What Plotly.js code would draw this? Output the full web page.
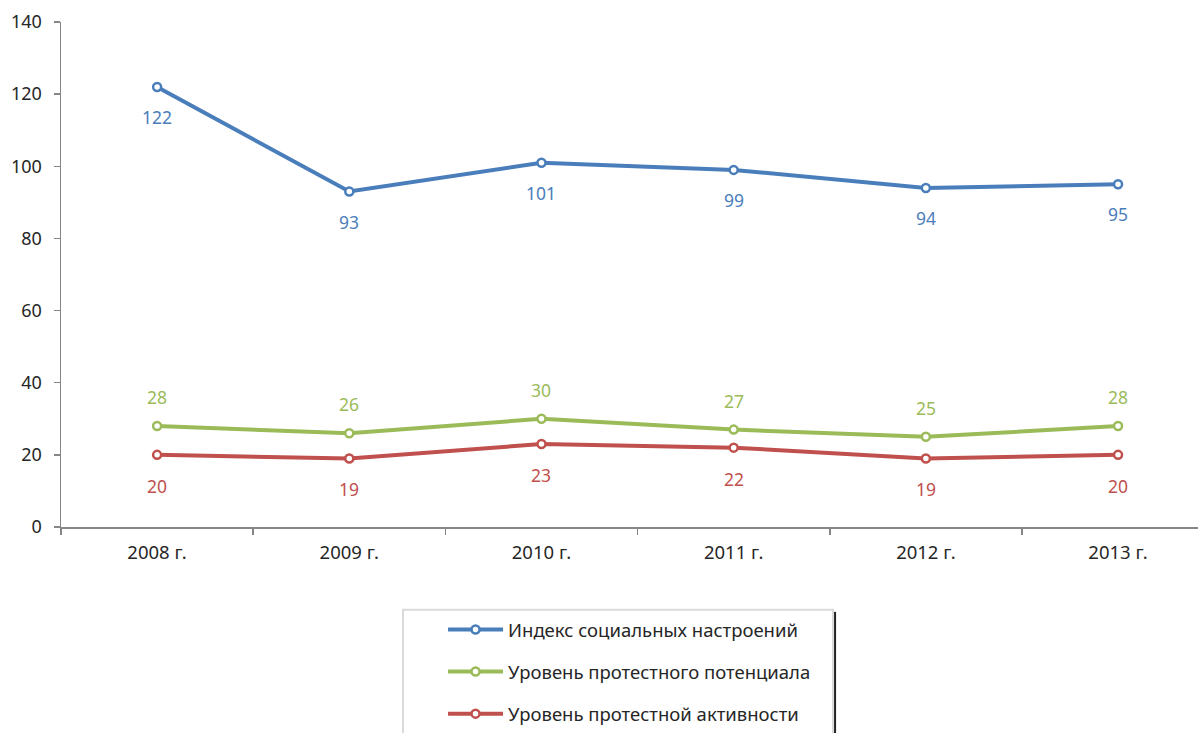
<!DOCTYPE html>
<html><head><meta charset="utf-8">
<script src="https://cdn.plot.ly/plotly-3.0.1.min.js"></script>
<style>body{margin:0;background:#fff}#chart{width:1198px;height:733px}</style>
</head><body><div id="chart"></div>
<script>
const categories = ["2008 г.", "2009 г.", "2010 г.", "2011 г.", "2012 г.", "2013 г."];
const seriesNames = ["Индекс социальных настроений", "Уровень протестного потенциала", "Уровень протестной активности"];
const indexValues = [122, 93, 101, 99, 94, 95];
const potentialValues = [28, 26, 30, 27, 25, 28];
const activityValues = [20, 19, 23, 22, 19, 20];
const yTicks = [0, 20, 40, 60, 80, 100, 120, 140];

const colors = ["#4a7ebb", "#9bbb59", "#c0504d"];
const allValues = [indexValues, potentialValues, activityValues];
const labelShift = [-30, 29, -31];
const FONT = "Noto Sans, sans-serif";

const traces = allValues.map((vals, i) => ({
  type: "scatter", mode: "lines+markers",
  x: categories, y: vals, name: seriesNames[i],
  legendgroup: "g" + i,
  line: {color: colors[i], width: 4},
  marker: {symbol: "circle", size: 8, color: "#ffffff", line: {color: colors[i], width: 2.5}},
  hoverinfo: "skip"
}));

const annotations = [];
allValues.forEach((vals, i) => {
  vals.forEach((v, j) => {
    annotations.push({x: categories[j], y: v, xref: "x", yref: "y", text: String(v),
      showarrow: false, yshift: labelShift[i], font: {family: FONT, size: 17.5, color: colors[i]}});
  });
});

const layout = {
  width: 1198, height: 733,
  margin: {l: 61, r: 0, t: 22, b: 205},
  paper_bgcolor: "#ffffff", plot_bgcolor: "#ffffff",
  font: {family: FONT, size: 16, color: "#262626"},
  showlegend: true,
  xaxis: {type: "category", range: [-0.5, 5.416], tickson: "boundaries", automargin: false,
    ticks: "outside", ticklen: 6, tickcolor: "#868686", tickwidth: 1.5,
    showline: true, linecolor: "#868686", linewidth: 1.5, showgrid: false, zeroline: false,
    ticklabelstandoff: 8,
    tickfont: {family: FONT, size: 18.5, color: "#262626"}, fixedrange: true},
  yaxis: {range: [0, 140], tickvals: yTicks, ticks: "outside", ticklen: 6, tickcolor: "#868686", tickwidth: 1.5,
    showline: true, linecolor: "#868686", linewidth: 1.5, showgrid: false, zeroline: false, automargin: false,
    ticklabelstandoff: 8,
    tickfont: {family: FONT, size: 18, color: "#262626"}, fixedrange: true},
  legend: {x: 0.336, y: -0.166, xanchor: "left", yanchor: "top", orientation: "v",
    bgcolor: "rgba(0,0,0,0)", borderwidth: 0, tracegroupgap: 15, itemwidth: 55,
    font: {family: FONT, size: 18.5, color: "#262626"}},
  shapes: [
    {type: "rect", xref: "paper", yref: "paper", x0: 0.3008, x1: 0.679, y0: -0.164, y1: -0.45,
      line: {color: "#d9d9d9", width: 2}, fillcolor: "rgba(0,0,0,0)"},
    {type: "line", xref: "paper", yref: "paper", x0: 0.6808, x1: 0.6808, y0: -0.168, y1: -0.45,
      line: {color: "#222222", width: 2}}
  ],
  annotations: annotations
};

Plotly.newPlot("chart", traces, layout, {displayModeBar: false, staticPlot: true});
</script></body></html>
